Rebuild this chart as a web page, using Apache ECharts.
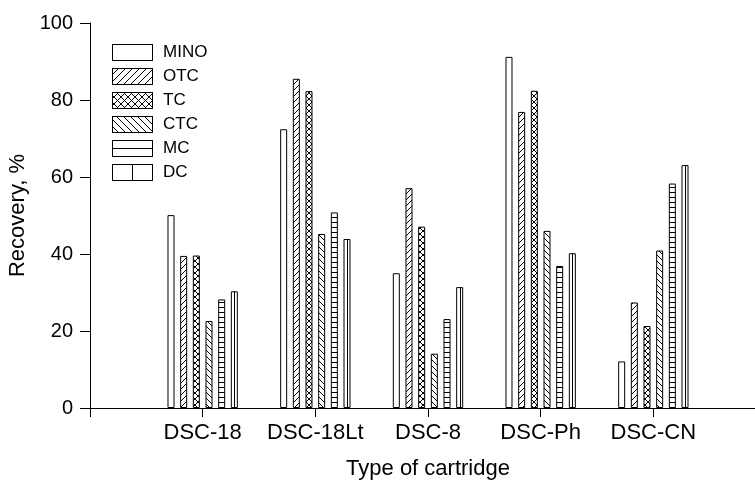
<!DOCTYPE html>
<html>
<head>
<meta charset="utf-8">
<script src="https://cdn.jsdelivr.net/npm/echarts@6/dist/echarts.min.js"></script>
<style>html,body{margin:0;padding:0;background:#fff;}#chart{width:755px;height:483px;}</style>
</head>
<body>
<div id="chart"></div>
<script>
// ---- data ----
const categories = ['DSC-18', 'DSC-18Lt', 'DSC-8', 'DSC-Ph', 'DSC-CN'];
const seriesNames = ['MINO', 'OTC', 'TC', 'CTC', 'MC', 'DC'];
const MINO = [50.1, 72.4, 35.0, 91.2, 12.1];
const OTC  = [39.5, 85.5, 57.1, 76.9, 27.4];
const TC   = [39.6, 82.3, 47.1, 82.4, 21.3];
const CTC  = [22.6, 45.2, 14.1, 46.0, 40.9];
const MC   = [28.2, 50.8, 23.1, 36.9, 58.3];
const DC   = [30.3, 43.9, 31.4, 40.2, 63.1];
const yTicks = [0, 20, 40, 60, 80, 100];

// ---- style ----
const FONT = "'Liberation Sans', Arial, Helvetica, sans-serif";
const BAR_W = 7;
const GAP_RATIO = 0.81;
const PITCH = BAR_W * (1 + GAP_RATIO);
const DC_OFFSET = 2.5 * PITCH;

function drawHatch(ctx, type, w, h, s) {
  ctx.strokeStyle = '#000';
  ctx.lineWidth = 1;
  ctx.beginPath();
  if (type === 'fwd' || type === 'cross') {
    for (let k = -h; k < w + h; k += s) {
      ctx.moveTo(k, h); ctx.lineTo(k + h, 0);
    }
  }
  if (type === 'back' || type === 'cross') {
    for (let k = -h; k < w + h; k += s) {
      ctx.moveTo(k, 0); ctx.lineTo(k + h, h);
    }
  }
  ctx.stroke();
}

function makeTile(type) {
  const s = type === 'horiz' ? 5 : 6;
  const c = document.createElement('canvas');
  c.width = s; c.height = s;
  const ctx = c.getContext('2d');
  ctx.fillStyle = '#fff';
  ctx.fillRect(0, 0, s, s);
  if (type === 'horiz') {
    ctx.fillStyle = '#000';
    ctx.fillRect(0, 2, s, 1);
  } else if (type !== 'none' && type !== 'vcenter') {
    drawHatch(ctx, type, s, s, s);
  }
  return c;
}

function makeLegendIcon(type) {
  const W = 46, H = 17, bw = 41;
  const c = document.createElement('canvas');
  c.width = W; c.height = H;
  const ctx = c.getContext('2d');
  ctx.save();
  ctx.beginPath();
  ctx.rect(0, 0, bw, H);
  ctx.clip();
  ctx.fillStyle = '#fff';
  ctx.fillRect(0, 0, bw, H);
  if (type === 'horiz') {
    ctx.fillStyle = '#000';
    ctx.fillRect(0, 8, bw, 1);
  } else if (type === 'vcenter') {
    ctx.fillStyle = '#000';
    ctx.fillRect(20, 0, 1, H);
  } else if (type !== 'none') {
    drawHatch(ctx, type, bw, H, 7);
  }
  ctx.restore();
  ctx.strokeStyle = '#000';
  ctx.lineWidth = 1;
  ctx.strokeRect(0.5, 0.5, bw - 1, H - 1);
  return 'image://' + c.toDataURL();
}

const types = ['none', 'fwd', 'cross', 'back', 'horiz', 'vcenter'];
const values = [MINO, OTC, TC, CTC, MC, DC];
const axisCats = [''].concat(categories, ['']);

const series = seriesNames.map((name, i) => ({
  name: name,
  type: 'bar',
  barWidth: BAR_W,
  barGap: (GAP_RATIO * 100) + '%',
  data: ['-'].concat(values[i], ['-']),
  itemStyle: {
    color: { image: makeTile(types[i]), repeat: 'repeat' },
    borderColor: '#000',
    borderWidth: 1
  },
  emphasis: { disabled: true },
  z: 2
}));

series.push({
  name: 'DC-line',
  type: 'custom',
  data: DC.map((v, i) => [i + 1, v]),
  encode: { x: 0, y: 1 },
  z: 3,
  silent: true,
  renderItem: function (params, api) {
    const top = api.coord([api.value(0), api.value(1)]);
    const base = api.coord([api.value(0), 0]);
    const x = Math.round(top[0] + DC_OFFSET) + 0.5;
    return {
      type: 'line',
      shape: { x1: x, y1: top[1], x2: x, y2: base[1] },
      style: { stroke: '#000', lineWidth: 1 }
    };
  }
});

const chart = echarts.init(document.getElementById('chart'), null, { renderer: 'canvas' });
chart.setOption({
  animation: false,
  backgroundColor: '#fff',
  textStyle: { fontFamily: FONT, color: '#000' },
  grid: { left: 90, width: 676, top: 23, height: 385, containLabel: false, outerBoundsMode: 'none' },
  legend: {
    orient: 'vertical',
    left: 112,
    top: 44,
    padding: 0,
    itemWidth: 46,
    itemHeight: 17,
    itemGap: 7,
    symbolKeepAspect: false,
    selectedMode: false,
    data: seriesNames.map((n, i) => ({ name: n, icon: makeLegendIcon(types[i]) })),
    textStyle: { fontFamily: FONT, fontSize: 17, color: '#000' }
  },
  xAxis: {
    type: 'category',
    data: axisCats,
    boundaryGap: false,
    name: 'Type of cartridge',
    nameLocation: 'middle',
    nameGap: 50,
    nameTextStyle: { fontFamily: FONT, fontSize: 22, color: '#000' },
    axisLine: { show: true, lineStyle: { color: '#000', width: 1 } },
    axisTick: { show: true, length: 9, lineStyle: { color: '#000' }, interval: function (idx) { return idx <= categories.length; } },
    axisLabel: { interval: 0, margin: 14, fontFamily: FONT, fontSize: 22, color: '#000' },
    splitLine: { show: false }
  },
  yAxis: {
    type: 'value',
    min: yTicks[0],
    max: yTicks[yTicks.length - 1],
    interval: yTicks[1] - yTicks[0],
    name: 'Recovery, %',
    nameLocation: 'middle',
    nameGap: 55,
    nameTextStyle: { fontFamily: FONT, fontSize: 22, color: '#000' },
    axisLine: { show: true, lineStyle: { color: '#000', width: 1 } },
    axisTick: { show: true, length: 10, lineStyle: { color: '#000' } },
    axisLabel: { margin: 17, fontFamily: FONT, fontSize: 20, color: '#000' },
    splitLine: { show: false }
  },
  series: series
});
</script>
</body>
</html>
